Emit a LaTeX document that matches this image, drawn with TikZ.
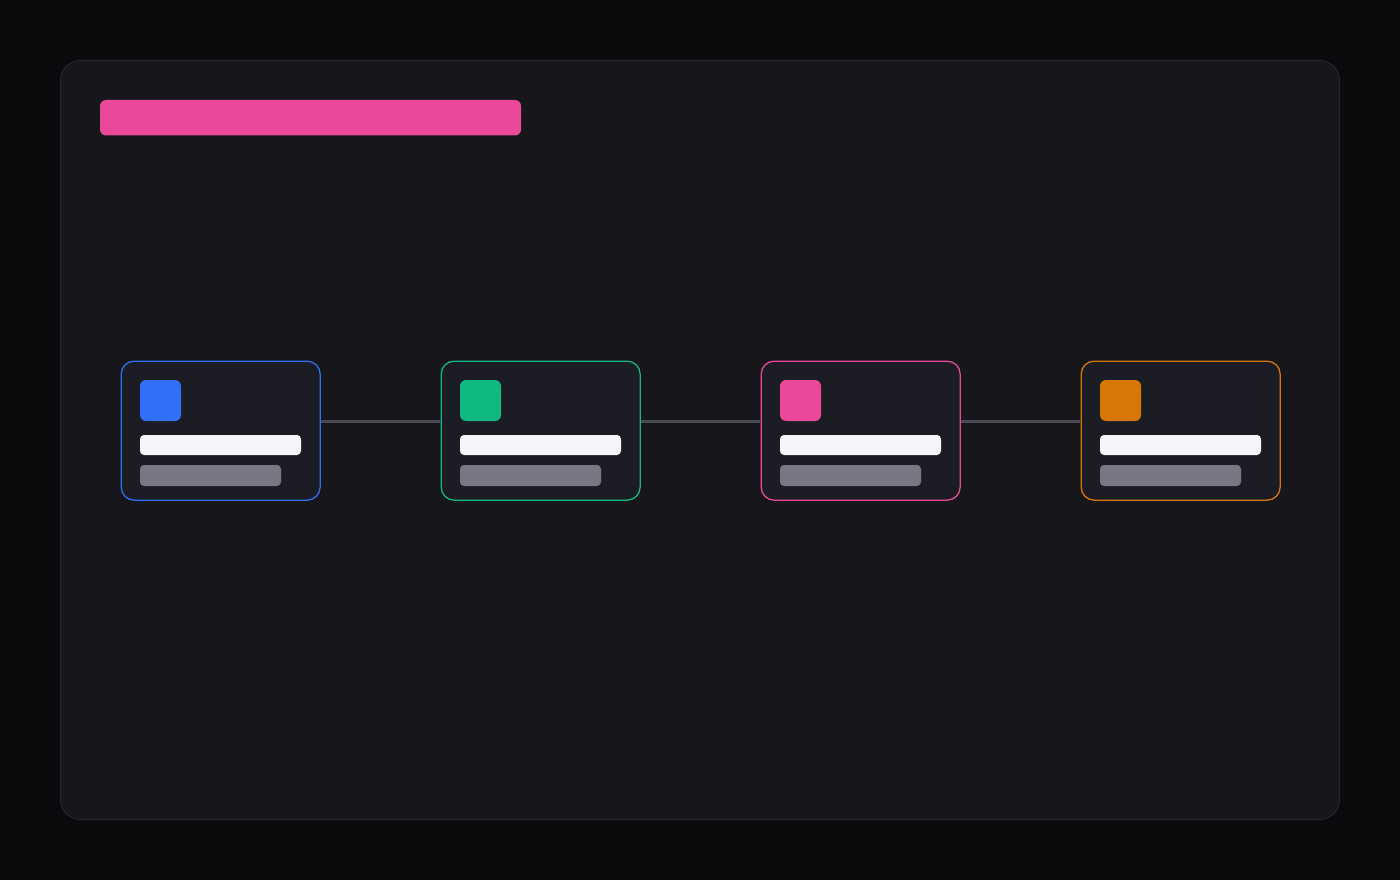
\documentclass[tikz,border=0pt]{standalone}
\definecolor{bgc}{HTML}{0B0B0D}
\definecolor{panelc}{HTML}{16161B}
\definecolor{panelb}{HTML}{26262E}
\definecolor{cardc}{HTML}{1C1C24}
\definecolor{linkc}{HTML}{4A4A55}
\definecolor{cblue}{HTML}{2F70F6}
\definecolor{cgreen}{HTML}{10B981}
\definecolor{cpink}{HTML}{EC4899}
\definecolor{corange}{HTML}{D97706}
\definecolor{wbar}{HTML}{F5F5FA}
\definecolor{gbar}{HTML}{787885}
\begin{document}
\begin{tikzpicture}[x=1pt,y=-1pt,
  card/.style={draw=#1,fill=cardc,line width=1.3pt,rounded corners=13pt,minimum width=199pt,minimum height=139pt,inner sep=0pt,anchor=north west},
  icon/.style={fill=#1,rounded corners=6pt},
  tbar/.style={fill=wbar,rounded corners=4pt},
  sbar/.style={fill=gbar,rounded corners=4pt},
  link/.style={draw=linkc,line width=3pt}]
\useasboundingbox (0,0) rectangle (1400,880);
\fill[bgc] (0,0) rectangle (1400,880);
\draw[fill=panelc,draw=panelb,line width=1pt,rounded corners=20pt] (60.5,60.5) rectangle (1339.5,819.5);
\fill[cpink,rounded corners=6pt] (100,100) rectangle (521,135.5);
\foreach \i/\c in {0/cblue,1/cgreen,2/cpink,3/corange}{
  \pgfmathsetmacro{\xo}{120+320*\i}
  \node[card=\c] (c\i) at (\xo+0.5,360.5) {};
  \fill[icon=\c] (\xo+20,380) rectangle (\xo+61,421);
  \fill[tbar] (\xo+20,435) rectangle (\xo+181,455);
  \fill[sbar] (\xo+20,465) rectangle (\xo+161,486);
}
\path[link] ([yshift=9.5pt]c0.east) -- ([yshift=9.5pt]c1.west);
\path[link] ([yshift=9.5pt]c1.east) -- ([yshift=9.5pt]c2.west);
\path[link] ([yshift=9.5pt]c2.east) -- ([yshift=9.5pt]c3.west);
\end{tikzpicture}
\end{document}
